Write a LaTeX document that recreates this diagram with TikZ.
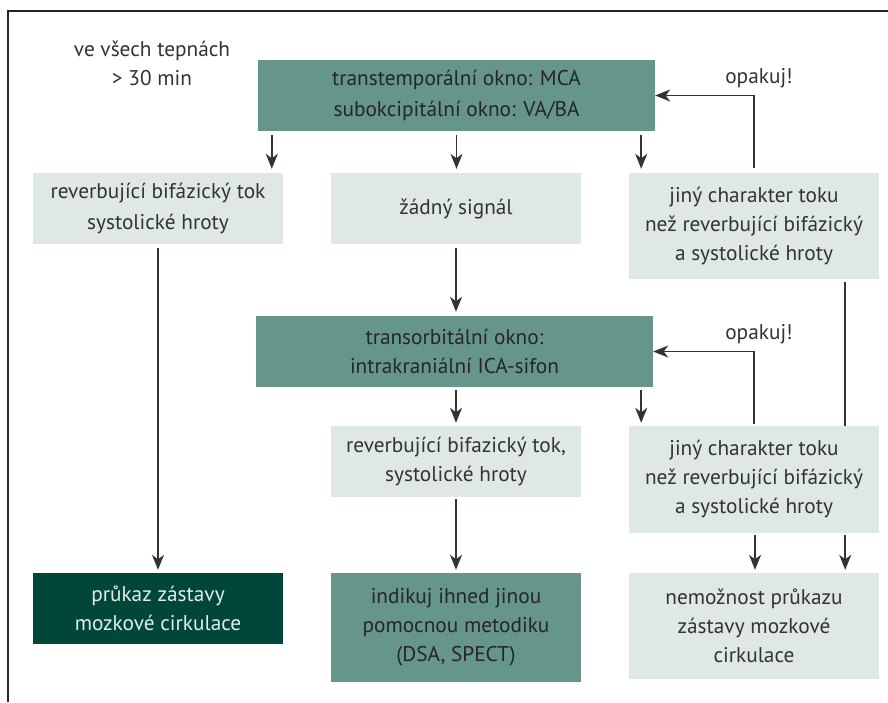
\documentclass[tikz,border=0pt]{standalone}
\usepackage{fontspec}
\setmainfont{PT Sans}
\usetikzlibrary{arrows.meta,calc}
\definecolor{teal}{HTML}{65958B}
\definecolor{pale}{HTML}{DFE8E6}
\definecolor{dark}{HTML}{00473A}
\definecolor{txt}{HTML}{333333}
\definecolor{txtlight}{HTML}{E3ECEA}
\tikzset{
  box/.style={rectangle, inner sep=0pt, align=center, text=txt,
    font=\fontsize{21.3}{29}\selectfont},
  tealbox/.style={box, fill=teal, text=black!85, minimum width=397pt, minimum height=71pt},
  palebox/.style={box, fill=pale, minimum width=250pt},
  darkbox/.style={box, fill=dark, text=txtlight, minimum width=250pt},
  arr/.style={draw=txt, line width=1.5pt, -{Stealth[length=15pt,width=12pt,inset=4.5pt]}},
  ln/.style={draw=txt, line width=1.5pt},
}
\begin{document}
\begin{tikzpicture}[x=1pt,y=-1pt]
\useasboundingbox (0,0) rectangle (888,702);
\fill[white] (0,0) rectangle (888,702);
\draw[black!85, line width=2pt] (8,702) -- (8,11) -- (888,11);

\node[box, text=txt] (note) at (152,63) {ve všech tepnách\\> 30 min};

\node[tealbox, font=\fontsize{21.3}{31}\selectfont] (top) at (456.5,95.5) {transtemporální okno: MCA\\subokcipitální okno: VA/BA};
\node[palebox, minimum height=71pt, font=\fontsize{21.3}{31}\selectfont] (L) at (158,208.5) {reverbující bifázický tok\\systolické hroty};
\node[palebox, minimum height=71pt] (M) at (456,208.5) {žádný signál};
\node[palebox, minimum height=106pt] (R) at (754,226) {jiný charakter toku\\než reverbující bifázický\\a systolické hroty};

\node[tealbox] (tr) at (454.5,351.5) {transorbitální okno:\\intrakraniální ICA-sifon};
\node[palebox, minimum height=71pt] (M2) at (456,461.5) {reverbující bifazický tok,\\systolické hroty};
\node[palebox, minimum height=107pt] (R2) at (754,479.5) {jiný charakter toku\\než reverbující bifázický\\a systolické hroty};

\node[darkbox, minimum height=71pt] (L3) at (158,608.5) {průkaz zástavy\\mozkové cirkulace};
\node[tealbox, minimum width=250pt, minimum height=109pt] (M3) at (456,627.5) {indikuj ihned jinou\\pomocnou metodiku\\(DSA, SPECT)};
\node[palebox, minimum height=106pt] (R3) at (754,626) {nemožnost průkazu\\zástavy mozkové\\cirkulace};

\node[box] (op1) at (759,78) {opakuj!};
\node[box] (op2) at (759,334) {opakuj!};

% arrows from top box
\draw[arr, shorten <=4pt, shorten >=4pt] ([xshift=14pt]top.south west) -- ([xshift=14pt]top.south west |- L.north);
\draw[arr, shorten <=4pt, shorten >=4pt] (top.south) -- (top.south |- M.north);
\draw[arr, shorten <=4pt, shorten >=4pt] ([xshift=-14pt]top.south east) -- ([xshift=-14pt]top.south east |- R.north);

% feedback loops
\draw[arr, shorten <=5pt] (R.north) |- (top.east);
\draw[arr, shorten <=2pt] (R2.north) |- (tr.east);

% left column
\draw[arr, shorten <=4pt, shorten >=3pt] (L.south) -- (L3.north);
% middle column
\draw[arr, shorten <=4pt, shorten >=4pt] (M.south) -- (M.south |- tr.north);
\draw[arr, shorten <=3pt, shorten >=3pt] (tr.south -| M2.north) -- (M2.north);
\draw[arr, shorten <=3pt, shorten >=3pt] ([xshift=-12pt]tr.south east) -- ([xshift=-12pt]tr.south east |- R2.north);
\draw[arr, shorten <=2pt, shorten >=3pt] (M2.south) -- (M3.north);

% right column
\coordinate (rx) at ([xshift=-34pt]R.south east);
\draw[ln, shorten <=3pt] (rx) -- (rx |- R2.north);
\draw[arr, shorten <=2pt, shorten >=3pt] (rx |- R2.south) -- (rx |- R3.north);
\draw[arr, shorten <=2pt, shorten >=3pt] ([xshift=1pt]R2.south) -- ([xshift=1pt]R2.south |- R3.north);
\end{tikzpicture}
\end{document}
